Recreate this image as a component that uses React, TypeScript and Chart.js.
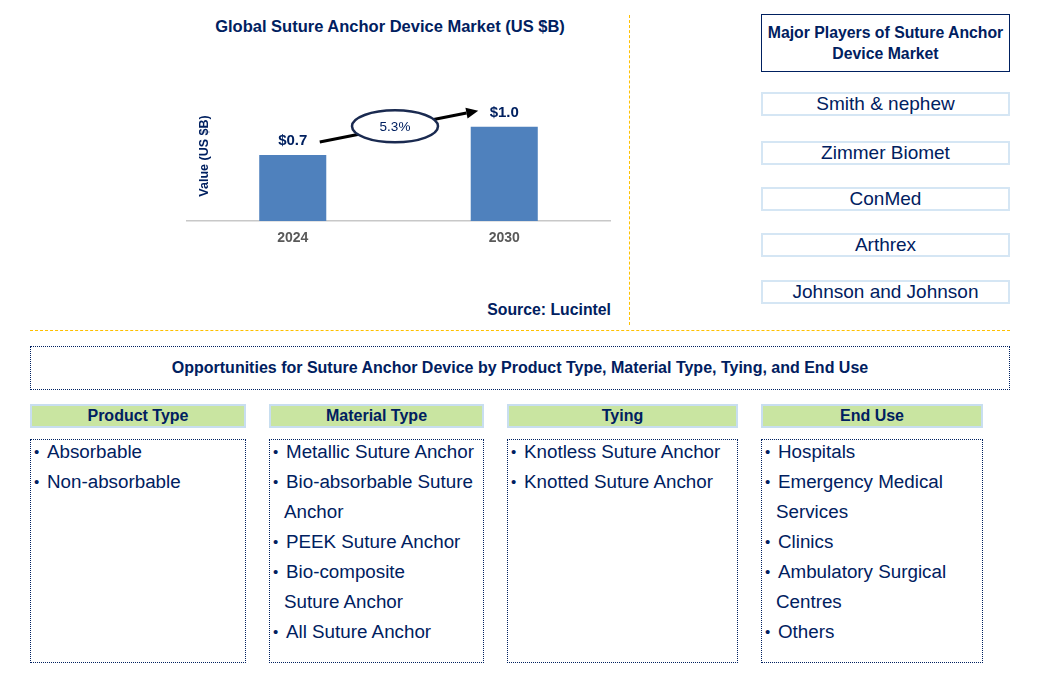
import React, { useEffect, useRef } from "react";
import { Chart, registerables } from "chart.js";

Chart.register(...registerables);

const years = ["2024", "2030"];
const marketValues = [0.7, 1.0];
const valueLabels = ["$0.7", "$1.0"];
const cagrLabel = "5.3%";
const yAxisTitle = "Value (US $B)";
const yMax = 1.4;

const chartTitle = "Global Suture Anchor Device Market (US $B)";
const sourceText = "Source: Lucintel";
const playersTitle = ["Major Players of Suture Anchor", "Device Market"];
const players = ["Smith & nephew", "Zimmer Biomet", "ConMed", "Arthrex", "Johnson and Johnson"];
const opportunitiesTitle =
  "Opportunities for Suture Anchor Device by Product Type, Material Type, Tying, and End Use";
const segmentTitles = ["Product Type", "Material Type", "Tying", "End Use"];
const productType = ["Absorbable", "Non-absorbable"];
const materialType = [
  "Metallic Suture Anchor",
  "Bio-absorbable Suture\nAnchor",
  "PEEK Suture Anchor",
  "Bio-composite\nSuture Anchor",
  "All Suture Anchor",
];
const tying = ["Knotless Suture Anchor", "Knotted Suture Anchor"];
const endUse = [
  "Hospitals",
  "Emergency Medical\nServices",
  "Clinics",
  "Ambulatory Surgical\nCentres",
  "Others",
];
const segmentItems = [productType, materialType, tying, endUse];

const NAVY = "#002060";
const FONT = "'Liberation Sans', Arial, Helvetica, sans-serif";

const colLefts = [30, 269, 507, 761];
const colWidths = [216, 215, 231, 222];
const playerTops = [92, 141, 187, 233, 280];

const annotPlugin = {
  id: "annot",
  afterDatasetsDraw(chart: any) {
    const ctx = chart.ctx as CanvasRenderingContext2D;
    const bars = chart.getDatasetMeta(0).data as any[];
    const area = chart.chartArea;
    ctx.save();
    ctx.fillStyle = NAVY;
    ctx.textAlign = "center";
    ctx.textBaseline = "middle";
    ctx.font = `bold 15px ${FONT}`;
    bars.forEach((b, i) => ctx.fillText(valueLabels[i], b.x, b.y - 14));

    const b0 = bars[0];
    const b1 = bars[1];
    const sx = b0.x + 27;
    const sy = b0.y - 13;
    const ex = b1.x - 26;
    const ey = b1.y - 16;
    const ang = Math.atan2(ey - sy, ex - sx);
    const hl = 12;
    const hw = 5.5;
    const bx = ex - hl * Math.cos(ang);
    const by = ey - hl * Math.sin(ang);
    ctx.strokeStyle = "#000";
    ctx.fillStyle = "#000";
    ctx.lineWidth = 3;
    ctx.beginPath();
    ctx.moveTo(sx, sy);
    ctx.lineTo(bx, by);
    ctx.stroke();
    ctx.beginPath();
    ctx.moveTo(ex, ey);
    ctx.lineTo(bx + hw * Math.sin(ang), by - hw * Math.cos(ang));
    ctx.lineTo(bx - hw * Math.sin(ang), by + hw * Math.cos(ang));
    ctx.closePath();
    ctx.fill();

    const cx = (sx + ex) / 2 - 4;
    const cy = (sy + ey) / 2;
    ctx.beginPath();
    ctx.ellipse(cx, cy, 43, 16, 0, 0, Math.PI * 2);
    ctx.fillStyle = "#fff";
    ctx.fill();
    ctx.lineWidth = 2.5;
    ctx.strokeStyle = "#1a2a50";
    ctx.stroke();
    ctx.fillStyle = NAVY;
    ctx.font = `13.5px ${FONT}`;
    ctx.fillText(cagrLabel, cx, cy + 1);

    ctx.translate(area.left + 18, (area.top + area.bottom) / 2 + 1);
    ctx.rotate(-Math.PI / 2);
    ctx.font = `bold 12.5px ${FONT}`;
    ctx.fillText(yAxisTitle, 0, 0);
    ctx.restore();
  },
};

function BarChart() {
  const ref = useRef<HTMLCanvasElement | null>(null);
  useEffect(() => {
    if (!ref.current) return;
    const chart = new Chart(ref.current, {
      type: "bar",
      data: {
        labels: years,
        datasets: [
          {
            data: marketValues,
            backgroundColor: "#4F81BD",
            barPercentage: 0.317,
            categoryPercentage: 1,
          },
        ],
      },
      options: {
        animation: false,
        responsive: false,
        maintainAspectRatio: false,
        layout: { padding: { left: 7, right: 20, top: 29, bottom: 29 } },
        plugins: { legend: { display: false }, title: { display: false }, tooltip: { enabled: false } },
        scales: {
          x: {
            grid: { display: false, drawTicks: false },
            border: { display: true, color: "#C8C8C8", width: 1.5 },
            ticks: { color: "#595959", font: { family: FONT, size: 14, weight: "bold" }, padding: 9 },
            afterFit: (s: any) => {
              s.height = 30;
            },
          },
          y: { display: false, min: 0, max: yMax },
        },
      },
      plugins: [annotPlugin],
    } as any);
    return () => chart.destroy();
  }, []);
  return <canvas ref={ref} width={450} height={220} style={{ width: 450, height: 220 }} />;
}

function Item({ text }: { text: string }) {
  const lines = text.split("\n");
  return (
    <div>
      {lines.map((l, i) => (
        <div key={i} style={{ position: "relative", paddingLeft: i === 0 ? 16 : 14, height: 30, lineHeight: "30px", whiteSpace: "nowrap" }}>
          {i === 0 && (
            <span style={{ position: "absolute", left: 3, top: 0, fontSize: 15 }}>•</span>
          )}
          {l}
        </div>
      ))}
    </div>
  );
}

export default function App() {
  const abs = (s: React.CSSProperties): React.CSSProperties => ({ position: "absolute", boxSizing: "border-box", ...s });
  return (
    <div style={{ position: "absolute", left: 0, top: 0, width: 1043, height: 675, background: "#fff", fontFamily: FONT, color: NAVY, overflow: "hidden" }}>
      <div style={abs({ left: 180, top: 16, width: 420, lineHeight: "20px", textAlign: "center", fontWeight: "bold", fontSize: 16.5, whiteSpace: "nowrap" })}>{chartTitle}</div>
      <div style={abs({ left: 180, top: 60, width: 450, height: 220 })}>
        <BarChart />
      </div>
      <div style={abs({ left: 400, top: 300, width: 211, lineHeight: "20px", textAlign: "right", fontWeight: "bold", fontSize: 15.8 })}>{sourceText}</div>

      <div style={abs({ left: 629, top: 15, height: 310, borderLeft: "1px dashed #FFC000" })} />
      <div style={abs({ left: 30, top: 330, width: 980, borderTop: "1px dashed #FFC000" })} />

      <div style={abs({ left: 761, top: 14, width: 249, height: 58, border: `1px solid ${NAVY}`, display: "flex", flexDirection: "column", justifyContent: "center", alignItems: "center", fontWeight: "bold", fontSize: 15.8, lineHeight: "21px", textAlign: "center", whiteSpace: "nowrap" })}>
        {playersTitle.map((t, i) => (
          <div key={i}>{t}</div>
        ))}
      </div>
      {players.map((p, i) => (
        <div key={p} style={abs({ left: 761, top: playerTops[i], width: 249, height: 24, border: "2px solid #D5E6F4", display: "flex", alignItems: "center", justifyContent: "center", fontSize: 19, whiteSpace: "nowrap" })}>
          {p}
        </div>
      ))}

      <div style={abs({ left: 30, top: 346, width: 980, height: 44, border: `1px dotted ${NAVY}`, display: "flex", alignItems: "center", justifyContent: "center", fontWeight: "bold", fontSize: 16, whiteSpace: "nowrap" })}>
        {opportunitiesTitle}
      </div>

      {segmentTitles.map((t, i) => (
        <React.Fragment key={t}>
          <div style={abs({ left: colLefts[i], top: 404, width: colWidths[i], height: 24, background: "#C9E5A1", border: "2px solid #C8DEF0", display: "flex", alignItems: "center", justifyContent: "center", fontWeight: "bold", fontSize: 16 })}>
            {t}
          </div>
          <div style={abs({ left: colLefts[i], top: 439, width: colWidths[i], height: 224, border: `1px dotted ${NAVY}` })}>
            <div style={{ position: "absolute", left: 0, top: -3, fontSize: 18.8 }}>
              {segmentItems[i].map((it) => (
                <Item key={it} text={it} />
              ))}
            </div>
          </div>
        </React.Fragment>
      ))}
    </div>
  );
}
